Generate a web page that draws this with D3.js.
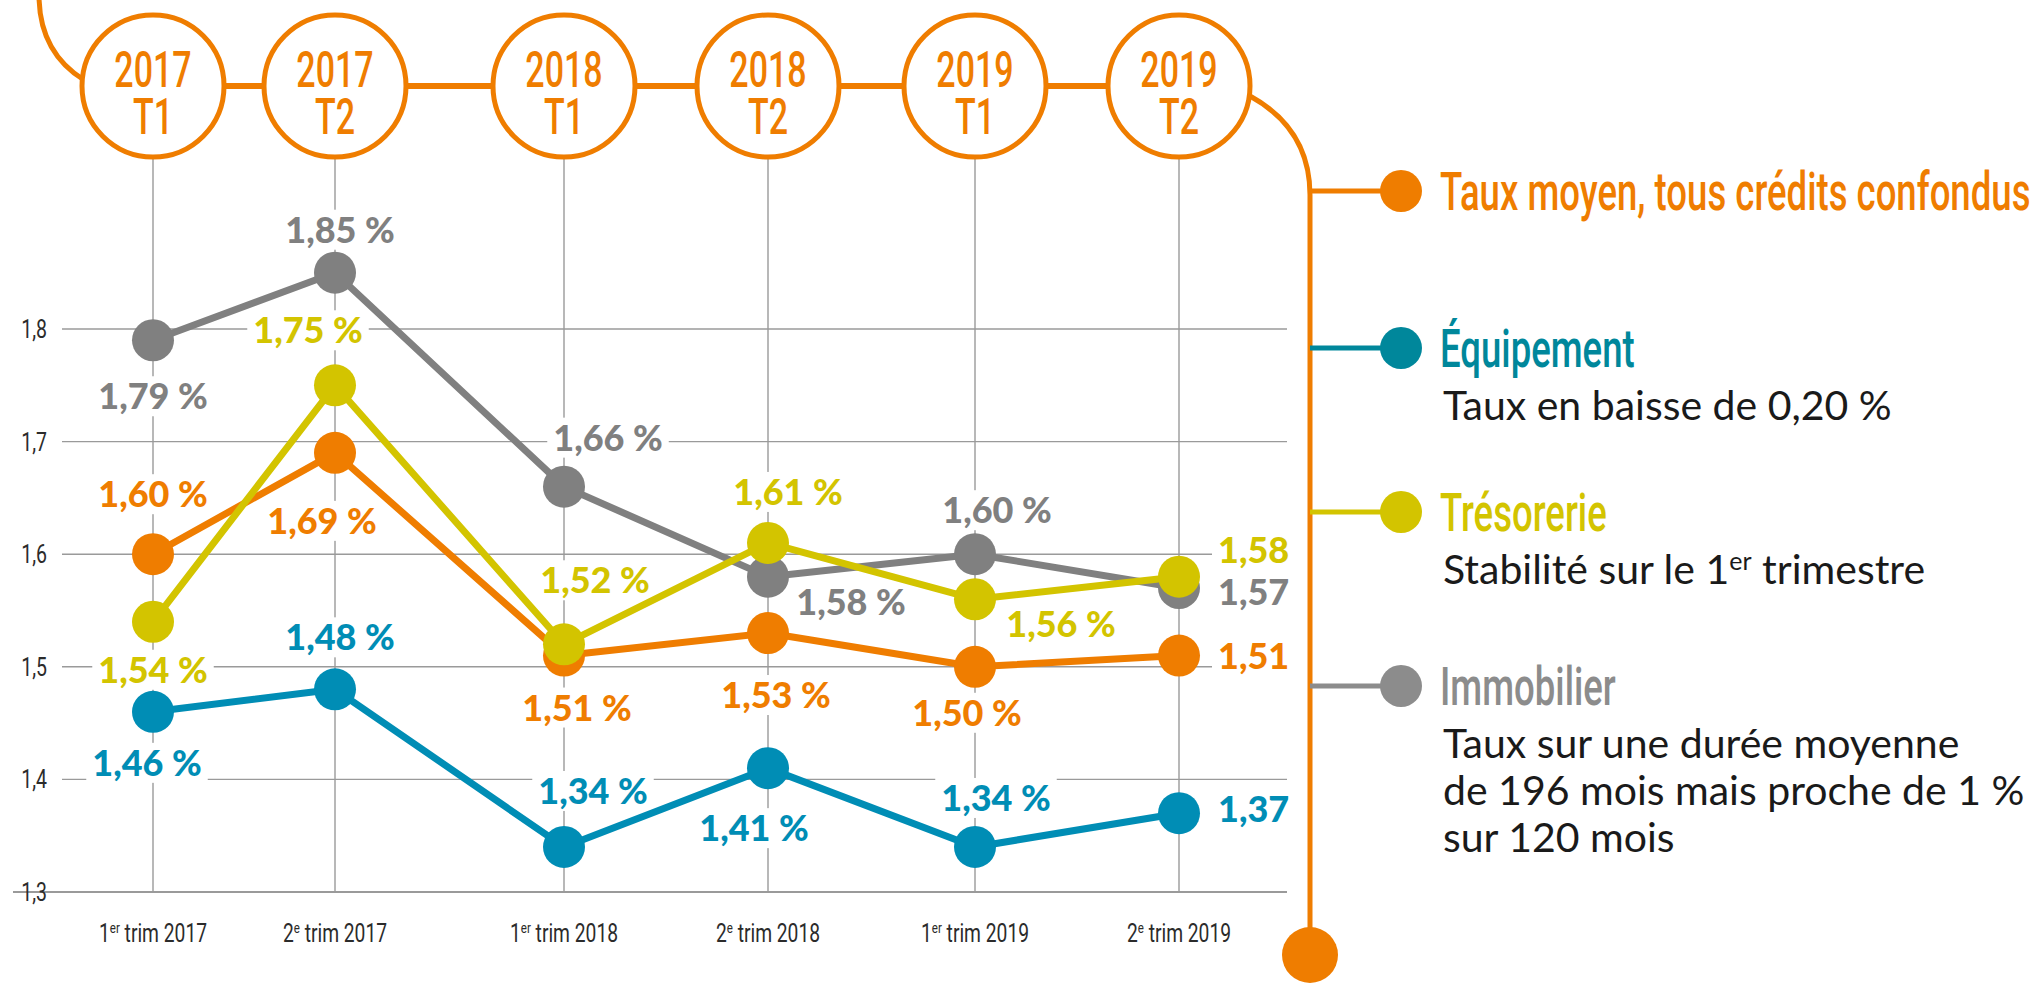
<!DOCTYPE html>
<html>
<head>
<meta charset="utf-8">
<script src="https://cdn.jsdelivr.net/npm/d3@7"></script>
<style>
  body { margin: 0; background: #fff; }
  svg { display: block; }
</style>
</head>
<body>
<div id="chart"></div>
<script>
// Data
var periods = ["2017 T1", "2017 T2", "2018 T1", "2018 T2", "2019 T1", "2019 T2"];
var bubbleYears = ["2017", "2017", "2018", "2018", "2019", "2019"];
var bubbleTerms = ["T1", "T2", "T1", "T2", "T1", "T2"];
var axisNums = ["1", "2", "1", "2", "1", "2"];
var axisSups = ["er", "e", "er", "e", "er", "e"];
var axisYears = ["trim 2017", "trim 2017", "trim 2018", "trim 2018", "trim 2019", "trim 2019"];
var yTicks = [1.3, 1.4, 1.5, 1.6, 1.7, 1.8];

var tauxMoyen  = [1.60, 1.69, 1.51, 1.53, 1.50, 1.51];
var equipement = [1.46, 1.48, 1.34, 1.41, 1.34, 1.37];
var tresorerie = [1.54, 1.75, 1.52, 1.61, 1.56, 1.58];
var immobilier = [1.79, 1.85, 1.66, 1.58, 1.60, 1.57];

var legendTitles = ["Taux moyen, tous crédits confondus", "Équipement", "Trésorerie", "Immobilier"];
var legendNotes = [
    [],
    ["Taux en baisse de 0,20 %"],
    ["Stabilité sur le 1^er^ trimestre"],
    ["Taux sur une durée moyenne", "de 196 mois mais proche de 1 %", "sur 120 mois"]
];

// Layout
var width = 2038, height = 984;
var orange = "#ef7d00";
var condensed = "Roboto, sans-serif";

// label offsets (dx, dy) from each point, "s" = start-anchored on the right
var offGray   = [[0, 56], [5, -43], [44, -49], [83, 25], [22, -44], [39, 4, "s"]];
var offYellow = [[0, 48], [-27, -55], [31, -64], [20, -51], [86, 25], [39, -27, "s"]];
var offOrange = [[0, -60], [-13, 68], [13, 52], [8, 62], [-8, 46], [39, 0, "s"]];
var offBlue   = [[-6, 51], [5, -52], [29, -56], [-14, 60], [21, -49], [39, -4, "s"]];

var series = [
    { name: "Immobilier", values: immobilier, color: "#808080", off: offGray },
    { name: "Équipement", values: equipement, color: "#008db5", off: offBlue },
    { name: "Taux moyen", values: tauxMoyen, color: orange, off: offOrange },
    { name: "Trésorerie", values: tresorerie, color: "#d3c400", off: offYellow }
];

var legendColors = [orange, "#00879b", "#d3c400", "#8c8c8c"];
var lineColors = [orange, "#00879b", "#d3c400", "#8c8c8c"];
var legendY = [191, 348, 512, 686];

var svg = d3.select("#chart")
    .append("svg")
    .attr("width", width)
    .attr("height", height);

// Scales
var x = d3.scaleOrdinal()
    .domain(periods)
    .range([153, 335, 564, 768, 975, 1179]);

var y = d3.scaleLinear()
    .domain([1.3, 1.8])
    .range([892, 329]);

// condensed text: a group placed at (tx, ty) and squeezed horizontally
function narrow(parent, tx, ty, k) {
    return parent.append("g")
        .attr("transform", `translate(${tx},${ty}) scale(${k},1)`);
}

var fmt = d3.format(".2f");

// clip for chart area (labels on the right are cut)
svg.append("clipPath").attr("id", "plotClip")
    .append("rect").attr("x", 0).attr("y", 0).attr("width", 1294).attr("height", height);

var plot = svg.append("g").attr("clip-path", "url(#plotClip)");
var gridG = plot.append("g");
var bgG = plot.append("g");
var lineG = plot.append("g");
var textG = plot.append("g");

// horizontal grid
gridG.selectAll("line.h")
    .data(yTicks)
    .enter().append("line")
    .attr("x1", d => d === 1.3 ? 13 : 62)
    .attr("x2", 1287)
    .attr("y1", d => y(d))
    .attr("y2", d => y(d))
    .attr("stroke", "#9a9a9a")
    .attr("stroke-width", d => d === 1.3 ? 2.2 : 1.4);

// vertical grid
gridG.selectAll("line.v")
    .data(periods)
    .enter().append("line")
    .attr("x1", d => x(d))
    .attr("x2", d => x(d))
    .attr("y1", 158)
    .attr("y2", y(1.3))
    .attr("stroke", "#9a9a9a")
    .attr("stroke-width", 1.4);

// y tick labels
var axisG = svg.append("g");
yTicks.forEach(function(t) {
    narrow(axisG, 47, y(t) + 9, 0.75).append("text")
        .attr("text-anchor", "end")
        .attr("font-family", condensed)
        .attr("font-size", 26)
        .attr("fill", "#2b2b2b")
        .text(String(t).replace(".", ","));
});

// x axis labels
periods.forEach(function(p, i) {
    var t = narrow(axisG, x(p), 942, 0.77).append("text")
        .attr("text-anchor", "middle")
        .attr("font-family", condensed)
        .attr("font-size", 25)
        .attr("fill", "#2b2b2b");
    t.append("tspan").text(axisNums[i]);
    t.append("tspan").attr("dy", -9).attr("font-size", 15).text(axisSups[i]);
    t.append("tspan").attr("dy", 9).text(" " + axisYears[i]);
});

// series lines
var line = d3.line()
    .x((d, i) => x(periods[i]))
    .y(d => y(d));

series.forEach(function(s) {
    lineG.append("path")
        .datum(s.values)
        .attr("d", line)
        .attr("fill", "none")
        .attr("stroke", s.color)
        .attr("stroke-width", 7)
        .attr("stroke-linejoin", "round");
});
series.forEach(function(s) {
    lineG.selectAll(null)
        .data(s.values)
        .enter().append("circle")
        .attr("cx", (d, i) => x(periods[i]))
        .attr("cy", d => y(d))
        .attr("r", 21)
        .attr("fill", s.color);
});

// data labels with white backing
series.forEach(function(s) {
    s.values.forEach(function(v, i) {
        var o = s.off[i];
        var t = textG.append("text")
            .attr("x", x(periods[i]) + o[0])
            .attr("y", y(v) + o[1] + 13)
            .attr("text-anchor", o[2] === "s" ? "start" : "middle")
            .attr("font-family", "Lato, sans-serif")
            .attr("font-weight", 900)
            .attr("font-size", 36)
            .attr("fill", s.color)
            .text(fmt(v).replace(".", ",") + " %");
        var b = t.node().getBBox();
        bgG.append("rect")
            .attr("x", b.x - 6).attr("y", b.y + 3)
            .attr("width", b.width + 12).attr("height", b.height - 4)
            .attr("fill", "#fff");
    });
});

// timeline bubbles on top
var deco = svg.append("g");
deco.append("path")
    .attr("d", "M39,-5 C39,35 55,62 84,80")
    .attr("fill", "none").attr("stroke", orange).attr("stroke-width", 5);
deco.append("path")
    .attr("d", "M1250,96 C1290,118 1310,150 1310,195 L1310,955")
    .attr("fill", "none").attr("stroke", orange).attr("stroke-width", 5);
deco.append("line")
    .attr("x1", x(periods[0])).attr("x2", x(periods[5]))
    .attr("y1", 86).attr("y2", 86)
    .attr("stroke", orange).attr("stroke-width", 6);

periods.forEach(function(p, i) {
    deco.append("circle")
        .attr("cx", x(p)).attr("cy", 86)
        .attr("r", 71)
        .attr("fill", "#fff")
        .attr("stroke", orange)
        .attr("stroke-width", 5);
    // both lines in one text so they read as one label
    var t = narrow(deco, x(p), 86, 0.68).append("text")
        .attr("text-anchor", "middle")
        .attr("font-family", condensed)
        .attr("font-weight", 500)
        .attr("font-size", 50)
        .attr("fill", orange);
    t.append("tspan").attr("x", 0).attr("y", 1).text(bubbleYears[i]);
    t.append("tspan").attr("x", 0).attr("y", 48).text(bubbleTerms[i]);
});

// bottom end dot
deco.append("circle")
    .attr("cx", 1310).attr("cy", 955).attr("r", 28)
    .attr("fill", orange);

// legend
legendTitles.forEach(function(title, i) {
    var ly = legendY[i];
    deco.append("line")
        .attr("x1", 1310).attr("x2", 1390)
        .attr("y1", ly).attr("y2", ly)
        .attr("stroke", lineColors[i]).attr("stroke-width", 5);
    deco.append("circle")
        .attr("cx", 1401).attr("cy", ly).attr("r", 21)
        .attr("fill", legendColors[i]);
    narrow(deco, 1440, ly + 19, 0.69).append("text")
        .attr("font-family", condensed)
        .attr("font-weight", 500)
        .attr("font-size", 53)
        .attr("fill", legendColors[i])
        .text(title);
    legendNotes[i].forEach(function(note, j) {
        var t = deco.append("text")
            .attr("x", 1443)
            .attr("y", ly + 72 + j * 47)
            .attr("font-family", "Lato, sans-serif")
            .attr("font-size", 41)
            .attr("fill", "#1a1a1a");
        var parts = note.split("^");
        parts.forEach(function(p, k) {
            if (k % 2 === 1) {
                t.append("tspan").attr("dy", -14).attr("font-size", 25).text(p);
            } else {
                t.append("tspan").attr("dy", k > 0 ? 14 : 0).text(p);
            }
        });
    });
});
</script>
</body>
</html>
